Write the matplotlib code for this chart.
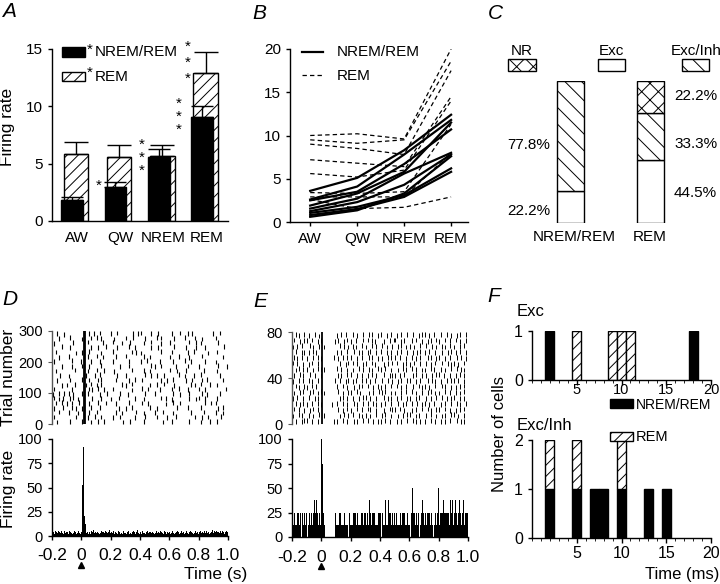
import matplotlib
matplotlib.use('Agg')
import matplotlib.pyplot as plt
from matplotlib.patches import Rectangle
from matplotlib.lines import Line2D
from matplotlib.ticker import MultipleLocator, FixedLocator
import numpy as np

plt.rcParams['font.family'] = ['Liberation Sans', 'DejaVu Sans']
plt.rcParams['hatch.linewidth'] = 0.7
plt.rcParams['axes.linewidth'] = 1.0

# ---------------- data ----------------
states = ['AW', 'QW', 'NREM', 'REM']
a_nremrem_mean = [1.8, 3.0, 5.6, 9.1]
a_nremrem_sem = [0.3, 0.4, 0.7, 0.9]
a_rem_mean = [5.8, 5.6, 5.7, 12.9]
a_rem_sem = [1.1, 1.0, 0.9, 1.8]

b_nremrem_cells = [
    [3.6, 5.1, 8.3, 12.4],
    [2.6, 4.1, 7.8, 11.8],
    [2.5, 3.5, 6.7, 10.7],
    [1.9, 3.3, 5.8, 11.5],
    [1.55, 2.7, 5.6, 8.0],
    [1.25, 2.3, 4.3, 7.8],
    [1.05, 1.75, 3.1, 6.2],
    [0.8, 1.5, 2.9, 5.8],
    [0.6, 1.35, 3.3, 7.6],
]
b_rem_cells = [
    [10.0, 10.2, 9.6, 20.0],
    [9.5, 9.1, 9.5, 18.6],
    [9.0, 8.5, 7.8, 17.5],
    [7.2, 6.8, 6.4, 14.5],
    [5.6, 5.2, 6.0, 14.0],
    [3.4, 3.3, 3.5, 11.3],
    [2.9, 2.9, 2.9, 8.0],
    [2.6, 1.55, 1.7, 2.9],
]

c_groups = ['NREM/REM', 'REM']
c_exc = [22.2, 44.5]
c_excinh = [77.8, 33.3]
c_nr = [0.0, 22.2]

# raster D: 20 rows (15 trials each, top -> bottom), 10-ms columns from -0.2 s
raster_d = [
    "...5....3. .......... .##..4..5. ..6....... 5...6..... .....4..5. 6......5.. ..5....... .4.....6.. ..5..4.... .........5 ....6.....",
    "....4..... ..6....... 3##...5... 6..4...... ..3....... 5....6.... ...4...... .6..5..... ...4...... 6......5.. ..3....... .5........",
    ".3........ ....5..... .##.6..... ....5..... .6.....4.. ...5...... ..4....6.. ....3..... 5......... ...6....5. .4........ ...5......",
    "......6... ..4....... .##...4... .5....6... ....4..... ..6...5... .......4.. ..5....... ...6...... .5......4. ....5..... .......6..",
    "..5....... ......3... 4##..6.... ...3...... .6........ ....5..4.. 3......... ....6..... .5........ ..4...6... ......3... ..5.......",
    "....3..... .5........ .##.5..... 6...4..... ...5...... 6......... ..5...4... .......... 4.....5... ...3...... ..6....... ......4...",
    ".5........ ...6.....4 .##...5... ..4....... .5........ ..4....... 5...6..... ...5...... ..4....... 6...5..... ....4..... .3........",
    "......4... ...3...... 5##..4.... ...6...... ......4... ..5....... .......6.. 3...5..... ....4..... ..5....... 4......... ...6.....4",
    "..4....... .....6.... .##.4..... 6....5.... ..3....... ....6..... ..5...4... .......... 6....4.... .5........ ...5...... ..4.......",
    ".....5.... .3........ .##5.....4 ..6....... ....4..... 5......... ...6...5.. .4....5... ......6... 3.....4... .6........ ....5.....",
    "...4...... ..5....... 6##..5.... .5.6...... ...5...... ..4...6... .5........ ....4...3. ..6....... .4...5.... ..5..6.... ......5...",
    "......3... 4....5.... .##4..6... 4..5...... .......5.. 3...6..... ......4... .5....6... ...3...... ....5..4.. .6.....5.. ..4.......",
    ".5........ ...4...... .##..5.4.. .6...4.... .5........ ....3..... .6...5.... ...4...... .5....6... ..4....... 5...4..... ........5.",
    "4...5...6. .5..4..... 5##.6..... ..4....5.. ......6... .4........ ...5...... 6......... ..5....4.. ...6...... ..5..4.... ....6.....",
    ".6..4..5.. ..5.6..4.. .##....5.. ...5...... 4....6.... ......5... ..4....... ....6..5.. .3........ ...5....4. 6...5..... ..5.......",
    "..5...6... 4..5....6. .##..4.... .6....5... ...4...... ..6....... .5...4.... .......3.. ..6....5.. .......... ....6...5. .5........",
    ".4.....5.. ...6..4... 4##...6... ..5....... .....4.... 3...5..... ......6... .4........ .....5.... ..6....... .5........ ...4..6...",
    "....6..... .5.....4.. .##..5.... 6......... ...5...4.. .......6.. ..4....... 5....6.... ..4....... ....5..... ...6...... .5....4...",
    ".5........ ......5... .##.4....6 ...5...... .4....5... ......4... ...6...... .5......4. ....6..... .......5.. ..4...5... .....6....",
    "...4...... ..5....... 5##...4... .6...5.... ........4. ...5...... ..6....... .....4.... .5........ ...6...... .4.....5.. ..6.......",
]

# raster E: 16 rows (5 trials each, top -> bottom), 10-ms columns from -0.2 s
raster_e = [
    "..5.4...6. .4...5..3. #......... 4..6..5... .5..4...6. ..6.5...4. 5...4..6.. .4..6...5. ..5...4.6. 6..4..5... .5...6..4. ..4.6...5.",
    ".6...4..5. 5..6...4.5 #........4 .5...4.6.. 4..5....6. .6..5.4... ..4...5..6 6...4.5... .5..6...4. ..4.5...6. 4...6..5.. .6..4...5.",
    "4..5..6... ..6.4...5. #4........ ..6..5..4. .5.4...6.. 4...6..5.. .6..4...5. ..5.6..4.. 5..4...6.. .6...5..4. ..5.4..6.. 4...5..6..",
    "..6...4.5. .5..6.4... #......... 5..4...6.. ..6..4.5.. .4.6...5.. 6...5..4.. .5..6...4. ..4..5.6.. 5..6...4.. ..4...5.6. .5..6...4.",
    ".5.4..6... 4...5..6.4 #.......5. .4..6..5.. 5...4..6.. ..5.6...4. .4...6.5.. 6..5...4.. .5..4..6.. ..6.5...4. 6...4..5.. ..5..6..4.",
    "6..5...4.. .4.6...5.. #......... ..5...4.6. .6..5...4. 5...6.4... ..4..5..6. .6...4.5.. 4..6...5.. .5..4..6.. ..6...5.4. 5..4...6..",
    "..4.6..5.. 5...4..6.5 #5........ 6..5...4.. .4...6..5. ..5.4...6. 5..6...4.. ..4..6.5.. .6..5...4. 4...6.5... .5..4...6. ..6..5.4..",
    ".5...6.4.. ..6..5...4 #......... .4.5...6.. 6...4..5.. .5..6..4.. ..6...5.4. 5..4..6... ..5.6...4. .4...5..6. 6..5...4.. .4..6..5..",
    "4...5..6.. .5.4...6.. #........5 ..6...4.5. .4.5...6.. 6..4..5... .5...6..4. ..4.5...6. 6...4..5.. ..5..6.4.. .4...5..6. 5..6...4..",
    "..6.4...5. 4..6..5... #......... 5...6..4.. ..4..5.6.. .6...4..5. 4..5...6.. .6..4..5.. ..5...6.4. 5..4...6.. ..6.5...4. .4..5..6..",
    ".4...5.6.. ..5.6..4.6 #4........ .6..4...5. 5...6.4... ..4..5...6 .5.6...4.. 4...5..6.. .6..4...5. ..5.6..4.. 4...6..5.. .5..4..6..",
    "5..6...4.. .6...4.5.. #......... ..4.6..5.. .5...4..6. 6..5...4.. ..6..4.5.. .4..6...5. 5...4.6... .4..5...6. ..6..4..5. 6...5..4..",
    "..5..4.6.. 4..5...6.4 #......4.. 6...5..4.. ..6.4...5. .5...6.4.. 4..6...5.. ..5..4.6.. .6...5..4. 5..4..6... .4..6...5. ..5.4...6.",
    ".6..5...4. ..4.6..5.. #......... .5..4..6.. 4...6..5.. .6.5...4.. ..4...6.5. 5..6..4... .4..5...6. ..6.4...5. 5...6..4.. .4..5..6..",
    "4...6.5... .5..4...6. #5........ ..4..6..5. .6...5.4.. 5..4...6.. .5.6...4.. ..4..5..6. 6...4.5... .5..6...4. ..4.5...6. 6..4...5..",
    "..5...4.6. 6..5...4.. #.......4. 5...6..4.. ..4.5...6. .6...4..5. 4..6..5... .5..4...6. ..6.5..4.. 4...6..5.. .5..4..6.. ..6..5.4..",
]

# PSTH D (Hz), 5-ms bins from -0.2 s to 1.0 s
psth_d = [6, 3, 4, 2, 5, 3, 4, 3, 5, 2, 4, 3, 5, 4, 3, 2, 4, 5, 3, 4,
          3, 4, 2, 5, 3, 4, 3, 2, 4, 3, 5, 3, 4, 2, 3, 4, 5, 3, 2, 4,
          4, 53, 92, 31, 21, 12, 5, 3, 4, 2,
          3, 4, 2, 5, 3, 4, 6, 3, 2, 4, 3, 5, 4, 3, 2, 4, 3, 5, 4, 2,
          4, 3, 5, 2, 4, 3, 2, 4, 6, 3, 2, 4, 3, 5, 3, 2, 4, 3, 4, 2,
          5, 3, 4, 2, 3, 4, 2, 5, 3, 4, 3, 2, 4, 3, 5, 2, 4, 3, 2, 4,
          3, 5, 4, 2, 3, 4, 6, 3, 4, 2, 4, 3, 2, 5, 3, 4, 3, 2, 4, 3,
          5, 3, 4, 2, 4, 3, 5, 4, 3, 2, 4, 3, 5, 3, 2, 4, 3, 5, 2, 4,
          3, 4, 2, 5, 4, 3, 2, 4, 3, 5, 4, 2, 3, 4, 5, 3, 4, 2, 3, 4,
          3, 5, 4, 2, 4, 3, 5, 3, 2, 4, 2, 4, 3, 5, 3, 4, 2, 4, 5, 3,
          4, 3, 2, 4, 3, 5, 4, 3, 4, 2, 3, 4, 5, 3, 6, 4, 3, 5, 4, 3,
          5, 4, 3, 4, 2, 5, 3, 4, 6, 4, 3, 5, 4, 3, 5, 4, 2, 4, 3, 5,
          4, 3, 5, 4, 3, 2, 4, 5, 3, 4]
# PSTH E in units of 12.5 Hz, 5-ms bins from -0.2 s to 1.0 s
psth_e_counts = ("2112131221" "1201211212" "2012112122" "3223231212"
                 "8622100000" "0000000012" "1211212112" "1212112021"
                 "2112122112" "1211212120" "2121131212" "1221211212"
                 "2102121312" "1321212212" "2121211231" "2122121212"
                 "1021421212" "2120212312" "1221212212" "2102122124"
                 "2122123212" "2122103232" "1232212232" "2123212202")
psth_unit_e = 12.5
time_ticks = [-0.2, 0, 0.2, 0.4, 0.6, 0.8, 1.0]
time_labels = ['-0.2', '0', '0.2', '0.4', '0.6', '0.8', '1.0']

f_time = list(range(1, 21))
f_exc_nremrem = [0, 1, 0, 0, 0, 0, 0, 0, 0, 0, 0, 0, 0, 0, 0, 0, 0, 1, 0, 0]
f_exc_rem = [0, 0, 0, 0, 1, 0, 0, 0, 1, 1, 1, 0, 0, 0, 0, 0, 0, 0, 0, 0]
f_excinh_nremrem = [0, 1, 0, 0, 1, 0, 1, 1, 0, 1, 0, 0, 1, 0, 1, 0, 0, 0, 0, 0]
f_excinh_rem = [0, 1, 0, 0, 1, 0, 0, 0, 0, 1, 0, 0, 0, 0, 0, 0, 0, 0, 0, 0]

# ---------------- figure ----------------
W, H = 720, 584
fig = plt.figure(figsize=(7.2, 5.84), dpi=100)


def add_ax(l, t, r, b):
    return fig.add_axes([l / W, 1 - b / H, (r - l) / W, (b - t) / H])


def ftext(x, y, s, **kw):
    return fig.text(x / W, 1 - y / H, s, **kw)


def fbox(x0, y0, x1, y1, **kw):
    fig.add_artist(Rectangle((x0 / W, 1 - y1 / H), (x1 - x0) / W, (y1 - y0) / H,
                             transform=fig.transFigure, **kw))


def style(ax, fs=11):
    ax.spines['top'].set_visible(False)
    ax.spines['right'].set_visible(False)
    ax.tick_params(direction='out', length=3, width=1, labelsize=fs)


# ---- Panel A ----
axA = add_ax(52, 49, 228, 221)
xa = np.arange(len(states))
axA.bar(xa - 0.025, a_rem_mean, width=0.57, color='white', edgecolor='black',
        hatch='///', lw=1, zorder=2)
axA.errorbar(xa - 0.025, a_rem_mean, yerr=[np.zeros(4), a_rem_sem], fmt='none',
             ecolor='k', elinewidth=1, capsize=8.9, capthick=1, zorder=2.5)
axA.bar(xa - 0.11, a_nremrem_mean, width=0.5, color='black', edgecolor='black',
        lw=1, zorder=3)
axA.errorbar(xa - 0.11, a_nremrem_mean, yerr=[np.zeros(4), a_nremrem_sem], fmt='none',
             ecolor='k', elinewidth=1, capsize=7.8, capthick=1, zorder=3.5)
axA.set_xlim(-0.577, 3.49)
axA.set_ylim(0, 15)
axA.set_yticks([0, 5, 10, 15])
axA.set_xticks(xa)
axA.set_xticklabels(states)
style(axA)
axA.tick_params(axis='x', length=0, pad=7)
ftext(8, 127, 'Firing rate', rotation=90, ha='center', va='center', fontsize=12.5)
fbox(62, 47, 85, 57, facecolor='black', edgecolor='black', lw=1)
fbox(62, 72, 85, 81, facecolor='white', edgecolor='black', lw=1, hatch='///')
ftext(95, 52, 'NREM/REM', ha='left', va='center', fontsize=11)
ftext(95, 77, 'REM', ha='left', va='center', fontsize=11)
for (sx, sy) in [(90, 54), (90, 77), (99, 189.5)]:
    ftext(sx, sy, '*', ha='center', va='baseline', fontsize=11)
for (sx, sy, ls) in [(141.7, 138, 0.9), (179, 97, 0.9), (188, 39.7, 1.2)]:
    ftext(sx, sy, '*\n*\n*', ha='center', va='top', fontsize=11, linespacing=ls)

# ---- Panel B ----
axB = add_ax(290, 49, 468, 222)
for cell in b_nremrem_cells:
    axB.plot(xa, cell, color='black', lw=1.6)
for cell in b_rem_cells:
    axB.plot(xa, cell, color='black', lw=0.9, dashes=(3.5, 2.5))
axB.set_xlim(-0.43, 3.36)
axB.set_ylim(0, 20)
axB.set_yticks([0, 5, 10, 15, 20])
axB.set_xticks(xa)
axB.set_xticklabels(states)
style(axB)
axB.tick_params(axis='x', pad=4)
fig.add_artist(Line2D([302 / W, 323 / W], [1 - 52 / H, 1 - 52 / H], color='black',
                      lw=1.6, transform=fig.transFigure))
fig.add_artist(Line2D([302 / W, 323 / W], [1 - 75 / H, 1 - 75 / H], color='black',
                      lw=0.9, dashes=(3.5, 2.5), transform=fig.transFigure))
ftext(337, 52, 'NREM/REM', ha='left', va='center', fontsize=11)
ftext(337, 76, 'REM', ha='left', va='center', fontsize=11)

# ---- Panel C ----
axC = add_ax(490, 81, 720, 223)
xc = np.arange(len(c_groups))
exc = np.array(c_exc)
excinh = np.array(c_excinh)
nr = np.array(c_nr)
axC.bar(xc, exc, width=0.34, color='white', edgecolor='black', lw=1)
axC.bar(xc, excinh, bottom=exc, width=0.34, color='white', edgecolor='black',
        lw=1, hatch='\\\\')
m = nr > 0
axC.bar(xc[m], nr[m], bottom=(exc + excinh)[m], width=0.34, color='white',
        edgecolor='black', lw=1, hatch='xx')
axC.set_xlim(-1.006, 1.869)
axC.set_ylim(0, 100)
axC.axis('off')
fbox(508, 59, 536, 71, facecolor='white', edgecolor='black', lw=1, hatch='xx')
fbox(598, 59, 625, 71, facecolor='white', edgecolor='black', lw=1)
fbox(682, 59, 709, 71, facecolor='white', edgecolor='black', lw=1, hatch='\\\\')
ftext(522, 51, 'NR', ha='center', va='center', fontsize=11)
ftext(611, 51, 'Exc', ha='center', va='center', fontsize=11)
ftext(696, 51, 'Exc/Inh', ha='center', va='center', fontsize=11)
ftext(550, 145, f'{c_excinh[0]:.1f}%', ha='right', va='center', fontsize=11)
ftext(550, 211, f'{c_exc[0]:.1f}%', ha='right', va='center', fontsize=11)
ftext(674, 96, f'{c_nr[1]:.1f}%', ha='left', va='center', fontsize=11)
ftext(674, 144, f'{c_excinh[1]:.1f}%', ha='left', va='center', fontsize=11)
ftext(674, 193, f'{c_exc[1]:.1f}%', ha='left', va='center', fontsize=11)
ftext(574, 237, c_groups[0], ha='center', va='center', fontsize=11)
ftext(650, 237, c_groups[1], ha='center', va='center', fontsize=11)


# ---- Panels D/E ----
def draw_raster(ax, rows, n_trials, tick_h, lw):
    nrows = len(rows)
    rh = n_trials / nrows
    xs, y0, y1, xb, b0, b1 = [], [], [], [], [], []
    for r, row in enumerate(rows):
        s = row.replace(' ', '')
        base = n_trials - rh * (r + 1)
        for c, ch in enumerate(s):
            if ch == '.':
                continue
            t = -0.2 + 0.01 * (c + 0.5)
            if ch == '#':
                xb.append(t); b0.append(base); b1.append(base + rh)
            else:
                off = (int(ch) - 5) / 10 * rh
                xs.append(t); y0.append(base + off + (1 - tick_h) / 2 * rh)
                y1.append(base + off + (1 + tick_h) / 2 * rh)
    ax.vlines(xs, y0, y1, color='black', lw=lw, clip_on=False)
    ax.vlines(xb, b0, b1, color='black', lw=1.3, clip_on=False)
    ax.set_xlim(-0.2, 1.0)
    ax.set_ylim(0, n_trials)
    for s in ['top', 'right', 'bottom']:
        ax.spines[s].set_visible(False)
    ax.spines['left'].set_color('#555555')
    ax.tick_params(axis='y', direction='out', length=3, labelsize=10.5, color='#555555')
    ax.set_xticks([])


def draw_psth(ax, values):
    edges = np.linspace(-0.2, 1.0, len(values) + 1)
    ax.stairs(values, edges, fill=True, color='black', lw=0)
    ax.set_xlim(-0.2, 1.0)
    ax.set_ylim(0, 100)
    ax.set_yticks([0, 25, 50, 75, 100])
    ax.set_xticks(time_ticks)
    ax.set_xticklabels(time_labels)
    style(ax)
    ax.tick_params(axis='y', labelsize=10.5)
    ax.tick_params(axis='x', labelsize=12.5, pad=6)
    ax.plot([0], [-0.30], marker='^', ms=4, color='black',
            transform=ax.get_xaxis_transform(), clip_on=False)


axDr = add_ax(52, 331, 228, 424)
draw_raster(axDr, raster_d, 300, 1.0, 0.8)
axDr.set_yticks([0, 100, 200, 300])
axDp = add_ax(52, 439, 228, 536)
draw_psth(axDp, np.array(psth_d, dtype=float))
ftext(9, 377, 'Trial number', rotation=90, ha='center', va='center', fontsize=12.5)
ftext(9, 489, 'Firing rate', rotation=90, ha='center', va='center', fontsize=12.5)
ftext(247, 574, 'Time (s)', ha='right', va='center', fontsize=12.5)

axEr = add_ax(292, 332, 468, 424)
draw_raster(axEr, raster_e, 80, 0.85, 0.7)
axEr.set_yticks([0, 40, 80])
axEp = add_ax(292, 439, 468, 537)
draw_psth(axEp, np.array([int(ch) for ch in psth_e_counts]) * psth_unit_e)


# ---- Panel F ----
def draw_f(ax, nrem, rem, ymax, pad, fs):
    t = np.array(f_time)
    nrem = np.array(nrem)
    rem = np.array(rem)
    mk = nrem > 0
    ax.bar(t[mk], nrem[mk], width=1.0, color='black', edgecolor='black', lw=1)
    mk = rem > 0
    ax.bar(t[mk], rem[mk], bottom=nrem[mk], width=1.0, color='white',
           edgecolor='black', lw=1, hatch='///')
    ax.set_xlim(0, 20)
    ax.set_ylim(0, ymax)
    ax.set_yticks(list(range(ymax + 1)))
    ax.xaxis.set_major_locator(FixedLocator([5, 10, 15, 20]))
    ax.xaxis.set_minor_locator(MultipleLocator(1))
    style(ax, 11.5)
    ax.tick_params(axis='x', which='major', length=3.5, pad=pad, labelsize=fs)
    ax.tick_params(axis='x', which='minor', direction='out', length=2)


axFt = add_ax(532, 331, 711, 380)
draw_f(axFt, f_exc_nremrem, f_exc_rem, 1, -1, 10.5)
axFb = add_ax(532, 440, 711, 538)
draw_f(axFb, f_excinh_nremrem, f_excinh_rem, 2, 2.5, 11.5)
ftext(517, 312, 'Exc', ha='left', va='center', fontsize=12)
ftext(517, 425, 'Exc/Inh', ha='left', va='center', fontsize=12)
fbox(610, 399, 633, 408, facecolor='black', edgecolor='black', lw=1)
fbox(610, 432, 633, 441, facecolor='white', edgecolor='black', lw=1, hatch='///')
ftext(636, 405, 'NREM/REM', ha='left', va='center', fontsize=10)
ftext(636, 437, 'REM', ha='left', va='center', fontsize=10.5)
ftext(500, 434, 'Number of cells', rotation=90, ha='center', va='center', fontsize=12)
ftext(719, 574, 'Time (ms)', ha='right', va='center', fontsize=12)

# ---- panel letters ----
for (lx, ly, letter) in [(2, 2, 'A'), (252, 4, 'B'), (488, 4, 'C'),
                         (2, 290, 'D'), (253, 292, 'E'), (487, 287, 'F')]:
    ftext(lx, ly, letter, ha='left', va='top', fontsize=15, style='italic')

fig.savefig('out.png', dpi=100)
